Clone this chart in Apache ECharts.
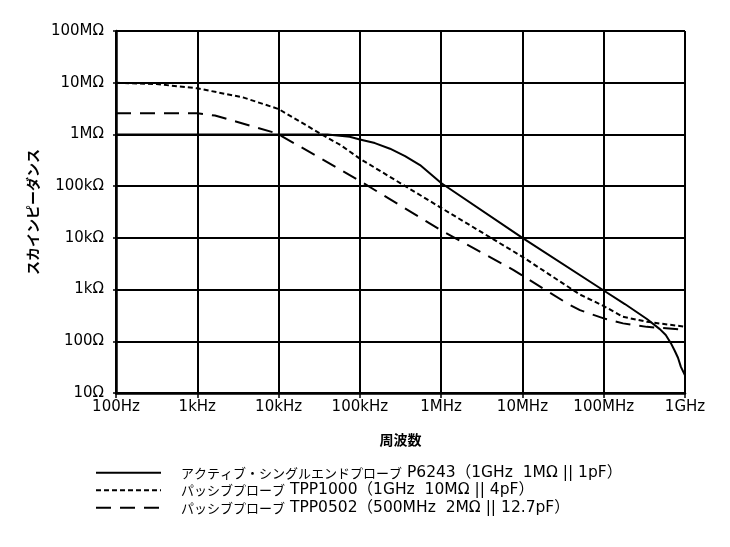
<!DOCTYPE html>
<html>
<head>
<meta charset="utf-8">
<script src="https://cdn.jsdelivr.net/npm/echarts@6/dist/echarts.min.js"></script>
<style>html,body{margin:0;padding:0;background:#fff}#c{width:730px;height:547px}</style>
</head>
<body>
<div id="c"></div>
<script>
// ---- data ----
var xTickLabels = ['100Hz','1kHz','10kHz','100kHz','1MHz','10MHz','100MHz','1GHz'];
var yTickLabels = ['10Ω','100Ω','1kΩ','10kΩ','100kΩ','1MΩ','10MΩ','100MΩ'];
var legendJp = ['アクティブ・シングルエンドプローブ', 'パッシブプローブ', 'パッシブプローブ'];
var legendSpec = ['P6243（1GHz  1MΩ || 1pF）', 'TPP1000（1GHz  10MΩ || 4pF）', 'TPP0502（500MHz  2MΩ || 12.7pF）'];

var freqP6243 = [100, 1e3, 1e4, 4e4, 7.5e4, 1e5, 1.53e5, 2.35e5, 3.6e5, 5.5e5, 1e6, 1e7, 1e8, 1.82e8, 3.4e8, 4.9e8, 5.8e8, 6.7e8, 7.5e8, 8.2e8, 8.9e8, 1e9];
var zP6243    = [1e6, 1e6, 1e6, 1e6, 9.0e5, 8.0e5, 6.8e5, 5.3e5, 3.8e5, 2.56e5, 1.15e5, 1.0e4, 960, 525, 270, 172, 132, 92, 65, 48, 32, 22];

var freqTPP1000 = [100, 316, 1e3, 3.65e3, 1e4, 1.8e4, 3.4e4, 5.8e4, 1e5, 1e6, 1e7, 5.1e7, 1e8, 1.72e8, 3.4e8, 1e9];
var zTPP1000    = [1.0e7, 9.4e6, 7.8e6, 5.2e6, 3.1e6, 1.8e6, 1.0e6, 6.2e5, 3.4e5, 3.8e4, 4.3e3, 800, 480, 298, 238, 192];

var freqTPP0502 = [100, 1e3, 1.65e3, 3.05e3, 9.5e3, 3.4e4, 1e5, 1e6, 7.7e6, 3.7e7, 5.1e7, 1e8, 1.73e8, 3.4e8, 1e9];
var zTPP0502    = [2.56e6, 2.56e6, 2.32e6, 1.76e6, 1.05e6, 3.35e5, 1.26e5, 1.4e4, 2.4e3, 520, 400, 277, 222, 190, 168];

function pairs(xs, ys) { return xs.map(function (x, i) { return [x, ys[i]]; }); }
var seriesNames = legendJp.map(function (j, i) { return j + '  ' + legendSpec[i]; });

var latin = '"DejaVu Sans", "Noto Sans CJK JP", sans-serif';
var cjk = '"Noto Sans CJK JP", sans-serif';
var chart = echarts.init(document.getElementById('c'), null, {renderer: 'canvas'});
var lineBase = {type: 'line', symbol: 'none', smooth: false, silent: true, animation: false};
chart.setOption({
  animation: false,
  backgroundColor: '#fff',
  grid: {left: 116, right: 45, top: 31, bottom: 154},
  xAxis: {
    type: 'log', logBase: 10, min: 100, max: 1e9,
    name: '周波数', nameLocation: 'middle', nameGap: 40,
    nameTextStyle: {fontFamily: cjk, fontWeight: 'bold', fontSize: 14, color: '#000'},
    axisLine: {show: true, lineStyle: {color: '#000', width: 2.5}},
    axisTick: {show: true, length: 5, lineStyle: {color: '#000', width: 1.5}},
    minorTick: {show: false},
    axisLabel: {color: '#000', fontFamily: latin, fontSize: 15, margin: 7,
      formatter: function (v) { return xTickLabels[Math.round(Math.log10(v)) - 2]; }},
    splitLine: {show: true, showMinLine: true, showMaxLine: true, lineStyle: {color: '#000', width: 2}}
  },
  yAxis: {
    type: 'log', logBase: 10, min: 10, max: 1e8,
    name: 'スカインピーダンス', nameLocation: 'middle', nameGap: 76, nameRotate: 90,
    nameTextStyle: {fontFamily: cjk, fontWeight: 'bold', fontSize: 14, color: '#000'},
    axisLine: {show: true, lineStyle: {color: '#000', width: 2.5}},
    axisTick: {show: true, length: 3, lineStyle: {color: '#000', width: 1.5}},
    axisLabel: {color: '#000', fontFamily: latin, fontSize: 15, margin: 12,
      formatter: function (v) { return yTickLabels[Math.round(Math.log10(v)) - 1]; }},
    splitLine: {show: true, showMinLine: true, showMaxLine: true, lineStyle: {color: '#000', width: 2}}
  },
  legend: {
    orient: 'vertical', left: 90, top: 460,
    itemWidth: 65, itemHeight: 14, itemGap: 2,
    selectedMode: false,
    itemStyle: {color: 'transparent', borderColor: 'transparent', borderWidth: 0, opacity: 0},
    textStyle: {color: '#000', padding: [0, 0, 0, 15], lineHeight: 14,
      rich: {
        j: {fontFamily: cjk, fontSize: 13, color: '#000', lineHeight: 14},
        l: {fontFamily: latin, fontSize: 15.5, color: '#000', lineHeight: 14}
      }},
    formatter: function (name) {
      var i = seriesNames.indexOf(name);
      return '{j|' + legendJp[i] + '}{l| ' + legendSpec[i] + '}';
    },
    data: seriesNames
  },
  series: [
    Object.assign({}, lineBase, {name: seriesNames[0], data: pairs(freqP6243, zP6243),
      lineStyle: {color: '#000', width: 2, type: 'solid'}, itemStyle: {color: '#000'}}),
    Object.assign({}, lineBase, {name: seriesNames[1], data: pairs(freqTPP1000, zTPP1000),
      lineStyle: {color: '#000', width: 2, type: [5, 3]}, itemStyle: {color: '#000'}}),
    Object.assign({}, lineBase, {name: seriesNames[2], data: pairs(freqTPP0502, zTPP0502),
      lineStyle: {color: '#000', width: 2, type: [15, 9]}, itemStyle: {color: '#000'}})
  ]
});
</script>
</body>
</html>
